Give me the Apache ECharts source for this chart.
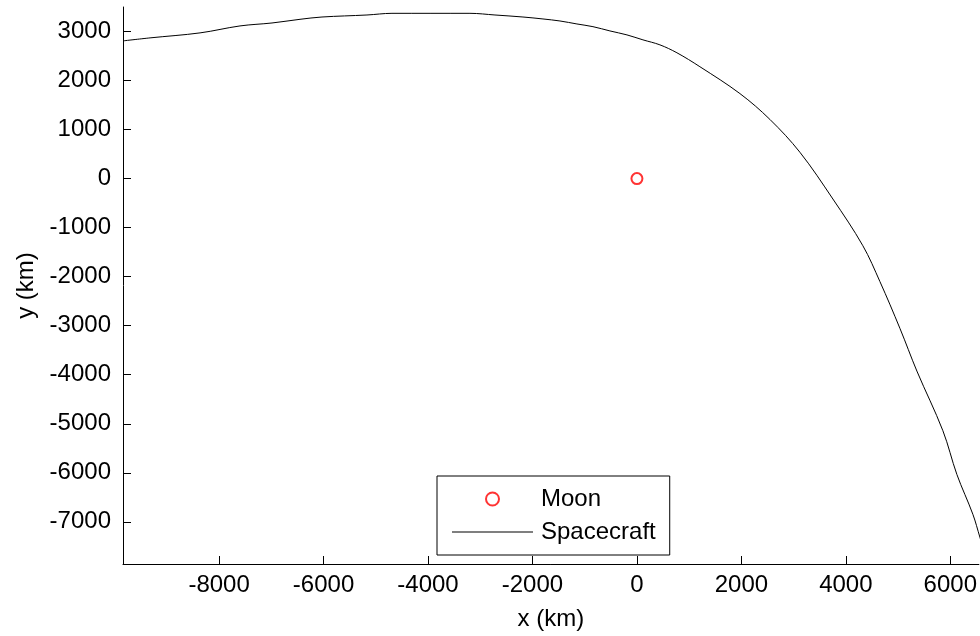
<!DOCTYPE html>
<html>
<head>
<meta charset="utf-8">
<script src="https://cdn.jsdelivr.net/npm/echarts@6/dist/echarts.min.js"></script>
<style>
html,body{margin:0;padding:0;background:#fff;}
#chart{width:980px;height:636px;}
</style>
</head>
<body>
<div id="chart"></div>
<script>
// Spacecraft trajectory (km)
var craftX = [-9840, -9322, -8365, -7600, -6987, -6451, -6030, -5169, -4690, -3197, -2718, -2182, -1799, -1474, -1149, -842, -517, -191, 115, 440, 766, 1206, 1972, 2546, 3120, 3752, 4326, 4652, 5035, 5360, 5858, 6126, 6432, 6566, 6700];
var craftY = [2809, 2870, 2972, 3114, 3174, 3249, 3296, 3337, 3371, 3371, 3337, 3296, 3256, 3215, 3154, 3099, 3012, 2931, 2830, 2728, 2566, 2282, 1734, 1207, 538, -416, -1369, -2099, -3053, -3925, -5142, -6034, -6846, -7312, -7780];
// Moon position (km)
var moonX = [0];
var moonY = [0];
// Tick labels
var xTicks = [-8000, -6000, -4000, -2000, 0, 2000, 4000, 6000];
var yTicks = [-7000, -6000, -5000, -4000, -3000, -2000, -1000, 0, 1000, 2000, 3000];
var xRange = [-9840, 6547];
var yRange = [-7860, 3500];

var craftData = craftX.map(function (x, i) { return [x, craftY[i]]; });
var moonData = moonX.map(function (x, i) { return [x, moonY[i]]; });

var font = 'Liberation Sans, Arial, Helvetica, sans-serif';
var plain = function (v) { return String(v); };
var chart = echarts.init(document.getElementById('chart'), null, {renderer: 'canvas'});
chart.setOption({
  animation: false,
  backgroundColor: '#fff',
  grid: {left: 123, top: 7, right: 1, bottom: 69, containLabel: false},
  xAxis: {
    type: 'value', min: xRange[0], max: xRange[1],
    name: 'x (km)', nameLocation: 'middle', nameGap: 43,
    nameTextStyle: {fontFamily: font, fontSize: 24, color: '#000'},
    axisLine: {onZero: false, lineStyle: {color: '#000', width: 1}},
    axisTick: {inside: true, length: 8, customValues: xTicks, lineStyle: {color: '#000'}},
    axisLabel: {customValues: xTicks, margin: 9, fontFamily: font, fontSize: 24, color: '#000', formatter: plain},
    splitLine: {show: false}
  },
  yAxis: {
    type: 'value', min: yRange[0], max: yRange[1],
    name: 'y (km)', nameLocation: 'middle', nameGap: 85,
    nameTextStyle: {fontFamily: font, fontSize: 24, color: '#000'},
    axisLine: {onZero: false, lineStyle: {color: '#000', width: 1}},
    axisTick: {inside: true, length: 8, customValues: yTicks, lineStyle: {color: '#000'}},
    axisLabel: {customValues: yTicks, margin: 12, fontFamily: font, fontSize: 24, color: '#000', formatter: plain},
    splitLine: {show: false}
  },
  legend: {
    orient: 'vertical', left: 437, top: 476,
    padding: [11, 14, 11, 15], itemGap: 9,
    itemWidth: 81, itemHeight: 13, symbolKeepAspect: true,
    borderColor: '#000', borderWidth: 1, backgroundColor: '#fff',
    textStyle: {fontFamily: font, fontSize: 24, color: '#000', padding: [0, 0, 0, 3]},
    data: [
      {name: 'Moon'},
      {name: 'Spacecraft', icon: 'path://M0,0L81,0L81,1L0,1Z', itemStyle: {color: '#000'}}
    ]
  },
  series: [
    {
      name: 'Moon', type: 'scatter', data: moonData,
      symbol: 'emptyCircle', symbolSize: 11,
      itemStyle: {color: '#ff0000', borderColor: '#ff0000', borderWidth: 2}
    },
    {
      name: 'Spacecraft', type: 'line', data: craftData,
      symbol: 'none', showSymbol: false, smooth: 0.35, clip: true,
      lineStyle: {color: '#000', width: 1},
      itemStyle: {color: '#000'}
    }
  ]
});
</script>
</body>
</html>
